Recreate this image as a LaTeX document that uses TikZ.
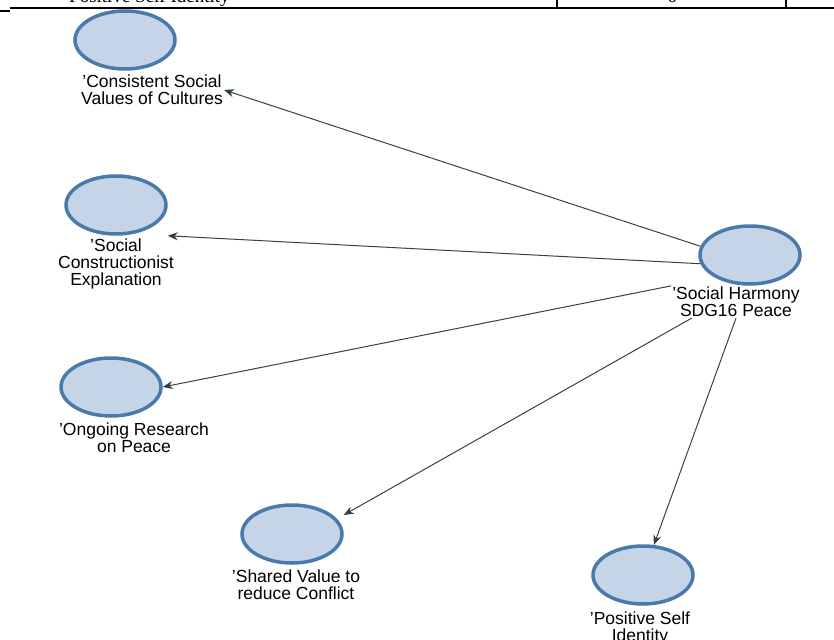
\documentclass[tikz,border=0pt]{standalone}
\usepackage{fontspec}
\setmainfont{Liberation Sans}
\newfontfamily\tablefont{Liberation Serif}
\usetikzlibrary{arrows.meta,shapes.geometric}
\definecolor{nodeblue}{RGB}{74,122,172}
\definecolor{nodefill}{RGB}{198,212,232}
\definecolor{edgegray}{RGB}{60,64,66}
\definecolor{tipgray}{RGB}{44,66,66}

\begin{document}
\begin{tikzpicture}[
 x=1pt, y=-1pt,
 >={Stealth[length=10pt,width=8pt,color=tipgray]},
 align=center,
 concept/.style={draw=nodeblue,line width=3.5pt,fill=nodefill,ellipse,minimum width=100pt,minimum height=58pt,inner sep=0pt},
 caption/.style={font=\fontsize{17.5}{17}\selectfont,inner sep=1pt},
 link/.style={draw=edgegray,line width=1pt,->},
 rule/.style={line width=2pt}
]
\useasboundingbox (0,0) rectangle (834,639);
% table row cut off at the top
\draw [rule] (10,8) -- (834,8);
\draw [rule] (0,11) -- (10,11);
\draw [rule] (557,0) -- (557,8);
\draw [rule] (786,0) -- (786,8);
\node (table-row) [font=\tablefont\fontsize{19}{19}\selectfont,anchor=base west,inner sep=0pt] at (69,3) {Positive Self Identity};
\node (table-count) [font=\tablefont\fontsize{19}{19}\selectfont,anchor=base,inner sep=0pt] at (672,3) {6};
% nodes
\node (harmony) [concept] at (750,255) {};
\node (harmony-label) [caption] at (736,302) {'Social Harmony\\SDG16 Peace};
\node (consistent) [concept] at (125,40) {};
\node (consistent-label) [caption] at (152,90) {'Consistent Social\\Values of Cultures};
\node (constructionist) [concept] at (116,205) {};
\node (constructionist-label) [caption] at (116,264) {'Social\\Constructionist\\Explanation};
\node (ongoing) [concept] at (111,387) {};
\node (ongoing-label) [caption] at (134,438) {'Ongoing Research\\on Peace};
\node (shared) [concept] at (292,534) {};
\node (shared-label) [caption] at (296,585) {'Shared Value to\\reduce Conflict};
\node (positive) [concept] at (643,575) {};
\node (positive-label) [caption] at (640,628) {'Positive Self\\Identity};
% links
\draw [link] (harmony.170) -- (consistent-label.east);
\draw [link] (harmony.190) -- (constructionist.east |- constructionist.south);
\draw [link] (harmony-label.north west) -- (ongoing.east);
\draw [link] (harmony-label.200) -- (shared.east |- shared.25);
\draw [link] (harmony-label.south) -- (positive);
\end{tikzpicture}
\end{document}
